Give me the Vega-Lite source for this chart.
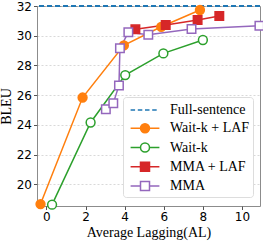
{
  "$schema": "https://vega.github.io/schema/vega-lite/v6.json",
  "width": 223,
  "height": 200,
  "autosize": "none",
  "padding": {"left": 37, "top": 6, "right": 3, "bottom": 35},
  "background": "white",
  "config": {
    "view": {"stroke": "#8c8c8c", "strokeWidth": 1},
    "axis": {
      "labelFont": "DejaVu Sans", "labelFontSize": 12, "labelColor": "#000",
      "titleFont": "Liberation Serif", "titleFontSize": 14, "titleFontWeight": "normal", "titleColor": "#000",
      "domain": false, "tickColor": "#555", "tickSize": 3.5,
      "gridColor": "#cfcfcf", "gridDash": [2, 2], "gridWidth": 0.8
    },
    "legend": {
      "orient": "none", "legendX": 86, "legendY": 91,
      "symbolSize": 324, "symbolStrokeWidth": 1.5, "symbolOffset": 9,
      "labelFont": "Liberation Serif", "labelFontSize": 14, "labelColor": "#000", "labelOffset": 15,
      "rowPadding": 1.25, "padding": 3,
      "strokeColor": "#dddddd", "fillColor": "white", "cornerRadius": 3
    }
  },
  "datasets": {
    "pts": [
      {"series": "Wait-k + LAF", "al": -0.3, "bleu": 18.67},
      {"series": "Wait-k + LAF", "al": 1.85, "bleu": 25.84},
      {"series": "Wait-k + LAF", "al": 3.96, "bleu": 29.35},
      {"series": "Wait-k + LAF", "al": 5.87, "bleu": 30.6},
      {"series": "Wait-k + LAF", "al": 7.85, "bleu": 31.73},
      {"series": "Wait-k", "al": 0.29, "bleu": 18.63},
      {"series": "Wait-k", "al": 2.26, "bleu": 24.16},
      {"series": "Wait-k", "al": 4.03, "bleu": 27.35},
      {"series": "Wait-k", "al": 5.98, "bleu": 28.81},
      {"series": "Wait-k", "al": 8.0, "bleu": 29.71},
      {"series": "MMA + LAF", "al": 4.55, "bleu": 30.43},
      {"series": "MMA + LAF", "al": 6.1, "bleu": 30.72},
      {"series": "MMA + LAF", "al": 7.73, "bleu": 31.06},
      {"series": "MMA + LAF", "al": 8.84, "bleu": 31.33},
      {"series": "MMA", "al": 3.04, "bleu": 25.05},
      {"series": "MMA", "al": 3.42, "bleu": 25.46},
      {"series": "MMA", "al": 3.71, "bleu": 26.65},
      {"series": "MMA", "al": 3.76, "bleu": 29.15},
      {"series": "MMA", "al": 4.19, "bleu": 30.23},
      {"series": "MMA", "al": 5.21, "bleu": 30.07},
      {"series": "MMA", "al": 7.42, "bleu": 30.45},
      {"series": "MMA", "al": 10.89, "bleu": 30.67}
    ],
    "full": [{"series": "Full-sentence", "bleu": 32}]
  },
  "encoding": {
    "x": {"field": "al", "type": "quantitative", "title": "Average Lagging(AL)",
      "scale": {"domain": [-0.48, 10.92], "nice": false, "zero": false},
      "axis": {"values": [0, 2, 4, 6, 8, 10], "grid": false, "titlePadding": 3}},
    "y": {"field": "bleu", "type": "quantitative", "title": "BLEU",
      "scale": {"domain": [18.54, 32], "nice": false, "zero": false},
      "axis": {"values": [20, 22, 24, 26, 28, 30, 32], "grid": true, "titlePadding": 3}}
  },
  "layer": [
    {
      "data": {"name": "full"},
      "mark": {"type": "rule", "strokeDash": [5, 3], "strokeWidth": 2},
      "encoding": {
        "x": null,
        "stroke": {"field": "series", "type": "nominal",
          "scale": {"domain": ["Full-sentence", "Wait-k + LAF", "Wait-k", "MMA + LAF", "MMA"],
            "range": ["#1f77b4", "#ff7f0e", "#2ca02c", "#d62728", "#9467bd"]}, "legend": null}
      }
    },
    {
      "data": {"name": "pts"},
      "mark": {"type": "line", "strokeWidth": 1.5},
      "encoding": {
        "stroke": {"field": "series", "type": "nominal",
          "scale": {"domain": ["Full-sentence", "Wait-k + LAF", "Wait-k", "MMA + LAF", "MMA"],
            "range": ["#1f77b4", "#ff7f0e", "#2ca02c", "#d62728", "#9467bd"]}, "legend": null}
      }
    },
    {
      "data": {"name": "pts"},
      "transform": [{"filter": "datum.series === 'Wait-k + LAF' || datum.series === 'Wait-k'"}],
      "mark": {"type": "point", "shape": "circle", "size": 78, "strokeWidth": 1.5, "opacity": 1},
      "encoding": {
        "stroke": {"field": "series", "type": "nominal",
          "scale": {"domain": ["Full-sentence", "Wait-k + LAF", "Wait-k", "MMA + LAF", "MMA"],
            "range": ["#1f77b4", "#ff7f0e", "#2ca02c", "#d62728", "#9467bd"]}, "legend": null},
        "fill": {"field": "series", "type": "nominal",
          "scale": {"domain": ["Full-sentence", "Wait-k + LAF", "Wait-k", "MMA + LAF", "MMA"],
            "range": ["#1f77b4", "#ff7f0e", "white", "#d62728", "white"]}, "legend": null}
      }
    },
    {
      "data": {"name": "pts"},
      "transform": [{"filter": "datum.series === 'MMA + LAF' || datum.series === 'MMA'"}],
      "mark": {"type": "point", "shape": "square", "size": 72, "strokeWidth": 1.5, "opacity": 1},
      "encoding": {
        "stroke": {"field": "series", "type": "nominal",
          "scale": {"domain": ["Full-sentence", "Wait-k + LAF", "Wait-k", "MMA + LAF", "MMA"],
            "range": ["#1f77b4", "#ff7f0e", "#2ca02c", "#d62728", "#9467bd"]}, "legend": null},
        "fill": {"field": "series", "type": "nominal",
          "scale": {"domain": ["Full-sentence", "Wait-k + LAF", "Wait-k", "MMA + LAF", "MMA"],
            "range": ["#1f77b4", "#ff7f0e", "white", "#d62728", "white"]}, "legend": null}
      }
    },
    {
      "data": {"name": "pts"},
      "transform": [{"filter": "false"}],
      "mark": {"type": "point", "strokeWidth": 1.5, "opacity": 1},
      "encoding": {
        "shape": {"field": "series", "type": "nominal", "title": null,
          "scale": {"domain": ["Full-sentence", "Wait-k + LAF", "Wait-k", "MMA + LAF", "MMA"],
            "range": [
              "M-1.6,0H-1.1M-0.8,0H-0.3M0,0H0.5M0.8,0H1.3",
              "M-1.6,0H1.6M-0.5,0A0.5,0.5,0,1,0,0.5,0A0.5,0.5,0,1,0,-0.5,0ZM-0.218,-0.45H0.218M-0.4,-0.3H0.4M-0.477,-0.15H0.477M-0.477,0.15H0.477M-0.4,0.3H0.4M-0.218,0.45H0.218",
              "M-1.6,0H-0.5M0.5,0H1.6M-0.5,0A0.5,0.5,0,1,0,0.5,0A0.5,0.5,0,1,0,-0.5,0Z",
              "M-1.6,0H1.6M-0.5,-0.5H0.5V0.5H-0.5ZM-0.5,-0.35H0.5M-0.5,-0.2H0.5M-0.5,-0.05H0.5M-0.5,0.1H0.5M-0.5,0.25H0.5M-0.5,0.4H0.5",
              "M-1.6,0H-0.5M0.5,0H1.6M-0.5,-0.5H0.5V0.5H-0.5Z"
            ]}
        },
        "stroke": {"field": "series", "type": "nominal", "title": null,
          "scale": {"domain": ["Full-sentence", "Wait-k + LAF", "Wait-k", "MMA + LAF", "MMA"],
            "range": ["#1f77b4", "#ff7f0e", "#2ca02c", "#d62728", "#9467bd"]}},
        "fill": {"field": "series", "type": "nominal", "title": null,
          "scale": {"domain": ["Full-sentence", "Wait-k + LAF", "Wait-k", "MMA + LAF", "MMA"],
            "range": ["#1f77b4", "#ff7f0e", "white", "#d62728", "white"]}}
      }
    }
  ],
  "resolve": {"scale": {"shape": "independent", "stroke": "independent", "fill": "independent"}}
}
